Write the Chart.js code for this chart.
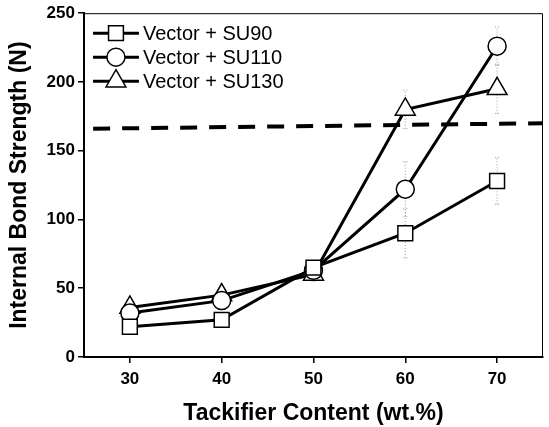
<!DOCTYPE html>
<html lang="en">
  <head>
    <meta charset="UTF-8" />
    <title>Internal Bond Strength</title>
    <style>
      html, body { margin: 0; padding: 0; background: #fff; }
      #wrap { width: 549px; height: 427px; }
    </style>
  </head>
  <body>
    <div id="wrap"><canvas id="ibChart" width="549" height="427"></canvas></div>

    <script src="https://cdn.jsdelivr.net/npm/chart.js"></script>
    <script>
      // data
      const tackifier = [30, 40, 50, 60, 70];
      const su90 = [22, 27, 65, 90, 128];
      const su110 = [32, 41, 63, 122, 226];
      const su130 = [36, 45, 60, 180, 195];
      const su90Err = [3, 3, 4, 18, 17];
      const su110Err = [3, 3, 4, 20, 14];
      const su130Err = [3, 3, 5, 14, 18];
      const refX = [26, 75];
      const refY = [166, 170];
      const xTicks = [30, 40, 50, 60, 70];
      const seriesNames = ["Vector + SU90", "Vector + SU110", "Vector + SU130"];

      const FONT = "'Liberation Sans', Arial, Helvetica, sans-serif";

      const pts = (ys) => ys.map((y, i) => ({ x: tackifier[i], y: y }));

      function series(label, ys, errs, style, radius) {
        return {
          label: label,
          data: pts(ys),
          errs: errs,
          borderColor: "#000",
          borderWidth: 3,
          pointStyle: style,
          pointRadius: radius,
          pointBorderWidth: 1.5,
          pointBorderColor: "#000",
          pointBackgroundColor: "#fff",
          tension: 0,
        };
      }

      // dotted error bars, drawn under the markers
      const errorBars = {
        id: "errorBars",
        beforeDatasetsDraw(chart) {
          const { ctx, scales } = chart;
          ctx.save();
          ctx.strokeStyle = "#9a9a9a";
          ctx.lineWidth = 1;
          ctx.setLineDash([1, 2]);
          chart.data.datasets.forEach((ds) => {
            if (!ds.errs) return;
            ds.data.forEach((p, i) => {
              const x = scales.x.getPixelForValue(p.x);
              const y1 = scales.y.getPixelForValue(p.y - ds.errs[i]);
              const y2 = scales.y.getPixelForValue(p.y + ds.errs[i]);
              ctx.beginPath();
              ctx.moveTo(x, y1);
              ctx.lineTo(x, y2);
              ctx.moveTo(x - 2, y1);
              ctx.lineTo(x + 2, y1);
              ctx.moveTo(x - 2, y2);
              ctx.lineTo(x + 2, y2);
              ctx.stroke();
            });
          });
          ctx.restore();
        },
      };

      // thin frame on top/right plus legend inside the plot
      const frameAndLegend = {
        id: "frameAndLegend",
        afterDraw(chart) {
          const { ctx, chartArea } = chart;
          ctx.save();
          ctx.strokeStyle = "#000";
          ctx.lineWidth = 1;
          ctx.beginPath();
          ctx.moveTo(chartArea.left, chartArea.top + 0.5);
          ctx.lineTo(chartArea.right - 0.5, chartArea.top + 0.5);
          ctx.lineTo(chartArea.right - 0.5, chartArea.bottom);
          ctx.stroke();

          const x0 = chartArea.left + 9;
          const lineLen = 46;
          let y = chartArea.top + 20;
          ctx.font = "20px " + FONT;
          ctx.textBaseline = "middle";
          ctx.fillStyle = "#000";
          chart.data.datasets.slice(0, 3).forEach((ds) => {
            ctx.lineWidth = 3;
            ctx.beginPath();
            ctx.moveTo(x0, y);
            ctx.lineTo(x0 + lineLen, y);
            ctx.stroke();
            ctx.fillStyle = "#fff";
            ctx.lineWidth = 1.5;
            Chart.helpers.drawPoint(
              ctx,
              { pointStyle: ds.pointStyle, radius: ds.pointRadius, borderWidth: 1.5 },
              x0 + lineLen / 2,
              y
            );
            ctx.fillStyle = "#000";
            ctx.fillText(ds.label, x0 + lineLen + 4, y + 1);
            y += 24;
          });
          ctx.restore();
        },
      };

      new Chart(document.getElementById("ibChart"), {
        type: "line",
        data: {
          datasets: [
            series(seriesNames[0], su90, su90Err, "rect", 10.5),
            series(seriesNames[1], su110, su110Err, "circle", 9),
            series(seriesNames[2], su130, su130Err, "triangle", 11.5),
            {
              label: "reference",
              data: refX.map((x, i) => ({ x: x, y: refY[i] })),
              borderColor: "#000",
              borderWidth: 4,
              borderDash: [17, 12],
              pointRadius: 0,
            },
          ],
        },
        options: {
          responsive: false,
          animation: false,
          layout: {
            autoPadding: false,
            padding: { top: 2, right: 6, left: 6, bottom: 0 },
          },
          plugins: {
            legend: { display: false },
            tooltip: { enabled: false },
          },
          scales: {
            x: {
              type: "linear",
              min: 25,
              max: 75,
              afterBuildTicks: (axis) => {
                axis.ticks = xTicks.map((v) => ({ value: v }));
              },
              afterFit: (axis) => {
                axis.paddingRight = 0;
              },
              grid: {
                drawOnChartArea: false,
                drawTicks: true,
                tickLength: 6,
                color: "#000",
                lineWidth: 1.5,
              },
              border: { display: true, color: "#000", width: 2 },
              ticks: {
                color: "#000",
                padding: 6,
                font: { family: FONT, size: 17, weight: "bold" },
              },
              title: {
                display: true,
                text: "Tackifier Content (wt.%)",
                color: "#000",
                padding: { top: 4, bottom: 0 },
                font: { family: FONT, size: 23, weight: "bold" },
              },
            },
            y: {
              min: 0,
              max: 250,
              ticks: {
                stepSize: 50,
                color: "#000",
                padding: 3,
                font: { family: FONT, size: 17, weight: "bold" },
              },
              grid: {
                drawOnChartArea: false,
                drawTicks: true,
                tickLength: 6,
                color: "#000",
                lineWidth: 1.5,
              },
              border: { display: true, color: "#000", width: 2 },
              title: {
                display: true,
                text: "Internal Bond Strength (N)",
                color: "#000",
                padding: { top: 0, bottom: 10 },
                font: { family: FONT, size: 23, weight: "bold" },
              },
            },
          },
        },
        plugins: [errorBars, frameAndLegend],
      });
    </script>
  </body>
</html>
